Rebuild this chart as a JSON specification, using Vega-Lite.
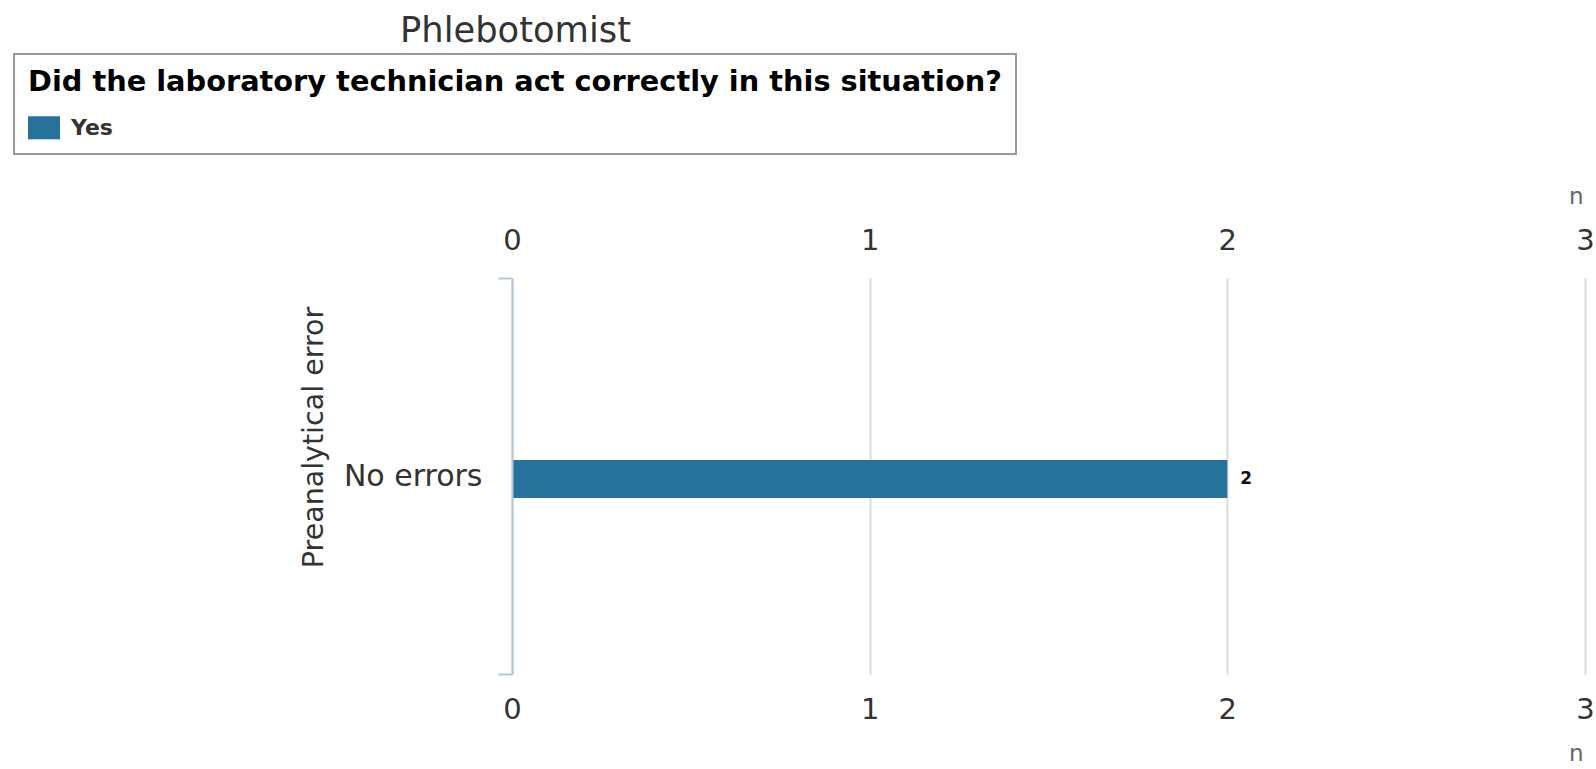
{
  "$schema": "https://vega.github.io/schema/vega-lite/v6.json",
  "width": 1073,
  "height": 396,
  "autosize": {"type": "none"},
  "padding": {"left": 512, "top": 278, "right": 11, "bottom": 95},
  "background": "white",
  "title": {
    "text": "Phlebotomist",
    "anchor": "middle",
    "frame": "group",
    "dx": -533,
    "dy": 28,
    "font": "DejaVu Sans",
    "fontSize": 35.3,
    "fontWeight": "normal",
    "color": "#333333",
    "baseline": "alphabetic"
  },
  "data": {"values": [{"error": "No errors", "answer": "Yes", "n": 2}]},
  "encoding": {
    "y": {
      "field": "error",
      "type": "nominal",
      "scale": {"paddingInner": 0, "paddingOuter": 0},
      "axis": {
        "title": "Preanalytical error",
        "titleFont": "DejaVu Sans",
        "titleFontSize": 28.5,
        "titleFontWeight": "normal",
        "titleColor": "#333333",
        "titleAngle": 270,
        "titleX": -190,
        "titleY": 159,
        "titleBaseline": "alphabetic",
        "titleAlign": "center",
        "labelFont": "DejaVu Sans",
        "labelFontSize": 30,
        "labelFontWeight": "normal",
        "labelColor": "#333333",
        "labelAngle": 0,
        "labelPadding": 16,
        "tickSize": 14,
        "tickBand": "extent",
        "tickColor": "#b4c6dc",
        "tickWidth": 2,
        "domainColor": "#b4c6dc",
        "domainWidth": 2,
        "grid": false,
        "zindex": 1
      }
    }
  },
  "layer": [
    {
      "mark": {"type": "bar", "size": 38, "yOffset": 3},
      "encoding": {
        "x": {
          "field": "n",
          "type": "quantitative",
          "scale": {"domain": [0, 3], "nice": false},
          "axis": {
            "orient": "top",
            "values": [0, 1, 2, 3],
            "title": "n",
            "titleFont": "DejaVu Sans",
            "titleFontSize": 23,
            "titleFontWeight": "normal",
            "titleColor": "#666666",
            "titleAnchor": "end",
            "titleAlign": "right",
            "titleX": 1071,
            "titleY": -75,
            "titleBaseline": "alphabetic",
            "labelFont": "DejaVu Sans",
            "labelFontSize": 29,
            "labelFontWeight": "normal",
            "labelColor": "#333333",
            "labelBaseline": "alphabetic",
            "labelPadding": 29,
            "labelFlush": false,
            "ticks": false,
            "tickSize": 0,
            "domain": false,
            "grid": true,
            "gridColor": "#dcdcdc",
            "gridWidth": 2
          }
        },
        "color": {
          "field": "answer",
          "type": "nominal",
          "scale": {"domain": ["Yes"], "range": ["#27729a"]},
          "legend": {
            "title": "Did the laboratory technician act correctly in this situation?",
            "orient": "none",
            "legendX": -498,
            "legendY": -224,
            "padding": 14,
            "strokeColor": "#999999",
            "fillColor": "#ffffff",
            "titleFont": "DejaVu Sans",
            "titleFontSize": 28.8,
            "titleFontWeight": "bold",
            "titleColor": "#000000",
            "titleLimit": 2000,
            "titlePadding": 15,
            "labelFont": "DejaVu Sans",
            "labelFontSize": 22,
            "labelFontWeight": "bold",
            "labelColor": "#333333",
            "labelOffset": 11,
            "symbolType": "M-1,-0.72H1V0.72H-1Z",
            "symbolSize": 1024,
            "symbolStrokeWidth": 0,
            "symbolOpacity": 1
          }
        }
      }
    },
    {
      "mark": {
        "type": "text",
        "align": "left",
        "baseline": "middle",
        "dx": 13,
        "dy": 3,
        "font": "DejaVu Sans",
        "fontSize": 17,
        "fontWeight": "bold",
        "color": "#111111"
      },
      "encoding": {
        "x": {
          "field": "n",
          "type": "quantitative",
          "scale": {"domain": [0, 3], "nice": false},
          "axis": {
            "orient": "bottom",
            "values": [0, 1, 2, 3],
            "title": "n",
            "titleFont": "DejaVu Sans",
            "titleFontSize": 23,
            "titleFontWeight": "normal",
            "titleColor": "#666666",
            "titleAnchor": "end",
            "titleAlign": "right",
            "titleX": 1071,
            "titleY": 86,
            "titleBaseline": "alphabetic",
            "labelFont": "DejaVu Sans",
            "labelFontSize": 29,
            "labelFontWeight": "normal",
            "labelColor": "#333333",
            "labelBaseline": "alphabetic",
            "labelPadding": 44,
            "labelFlush": false,
            "ticks": false,
            "tickSize": 0,
            "domain": false,
            "grid": false
          }
        },
        "text": {"field": "n", "type": "quantitative"}
      }
    }
  ],
  "resolve": {"axis": {"x": "independent"}},
  "config": {
    "view": {"stroke": null},
    "legend": {"strokeWidth": 2}
  }
}
